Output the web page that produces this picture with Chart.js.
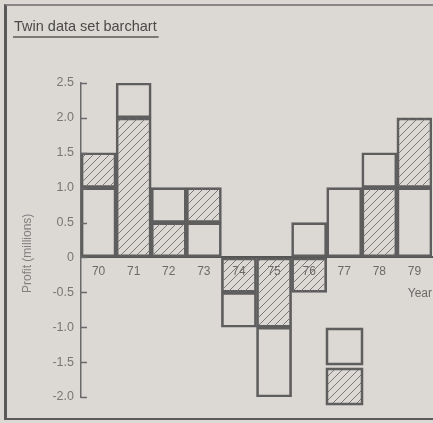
<!DOCTYPE html>
<html>
<head>
<meta charset="utf-8">
<script src="https://cdn.jsdelivr.net/npm/chart.js@4.4.1/dist/chart.umd.min.js"></script>
<style>
  html, body { margin: 0; padding: 0; background: #dcd8d3; width: 433px; height: 423px; overflow: hidden; }
  #frame { position: absolute; left: 4px; top: 4px; width: 460px; height: 412px;
           border-left: 3px solid #5a5a5a; border-top: 2px solid #8c8486; border-bottom: 2px solid #5a5a5a; }
  #c { position: absolute; left: 0; top: 0; }
</style>
</head>
<body>
<div id="frame"></div>
<canvas id="c" width="433" height="423"></canvas>
<script>
// ---- data ----
const years = ['70', '71', '72', '73', '74', '75', '76', '77', '78', '79'];
const plainSeries = [1.0, 2.5, 1.0, 0.5, -1.0, -2.0, 0.5, 1.0, 1.5, 1.0];
const hatchedSeries = [1.5, 2.0, 0.5, 1.0, -0.5, -1.0, -0.5, 1.0, 1.0, 2.0];
const yTickValues = [-2.0, -1.5, -1.0, -0.5, 0, 0.5, 1.0, 1.5, 2.0, 2.5];
const yTickLabels = ['-2.0', '-1.5', '-1.0', '-0.5', '0', '0.5', '1.0', '1.5', '2.0', '2.5'];

// Twin bars share one slot: the smaller (same sign) bar sits in front,
// the larger one shows only the part that sticks out beyond it.
function twinRanges(a, b) {
  if (a * b > 0) {
    if (Math.abs(a) <= Math.abs(b)) return [[0, a], [a, b]];
    return [[b, a], [0, b]];
  }
  return [[0, a], [0, b]];
}
const plainRanges = [], hatchedRanges = [];
years.forEach((y, i) => {
  const r = twinRanges(plainSeries[i], hatchedSeries[i]);
  plainRanges.push(r[0]);
  hatchedRanges.push(r[1]);
});

// hatch pattern
function makeHatch() {
  const s = 8;
  const pc = document.createElement('canvas');
  pc.width = s; pc.height = s;
  const g = pc.getContext('2d');
  g.strokeStyle = '#7a7878';
  g.lineWidth = 1;
  g.beginPath();
  g.moveTo(0, s); g.lineTo(s, 0);
  g.moveTo(-s / 2, s / 2); g.lineTo(s / 2, -s / 2);
  g.moveTo(s / 2, s + s / 2); g.lineTo(s + s / 2, s / 2);
  g.stroke();
  return g.createPattern(pc, 'repeat');
}
const ctx = document.getElementById('c').getContext('2d');
const hatch = makeHatch();

const FONT = "'Liberation Sans', Arial, sans-serif";
const TITLE_SIZE = 14.5;

const innerTicks = {
  id: 'innerTicks',
  afterDraw(chart) {
    const ys = chart.scales.y;
    const c = chart.ctx;
    c.save();
    c.strokeStyle = '#6a6a6a';
    c.lineWidth = 1.5;
    ys.ticks.forEach(t => {
      const py = Math.round(ys.getPixelForValue(t.value)) + 0.5;
      c.beginPath();
      c.moveTo(ys.right, py);
      c.lineTo(ys.right + 6, py);
      c.stroke();
    });
    c.restore();
  }
};

const titleUnderline = {
  id: 'titleUnderline',
  afterDraw(chart) {
    const tb = chart.titleBlock;
    const c = chart.ctx;
    c.save();
    c.font = TITLE_SIZE + 'px ' + FONT;
    const w = c.measureText(chart.options.plugins.title.text).width;
    c.strokeStyle = '#7c7878';
    c.lineWidth = 2;
    c.beginPath();
    c.moveTo(tb.left - 1, 37);
    c.lineTo(tb.left + w + 2, 37);
    c.stroke();
    c.restore();
  }
};

const boxLegend = {
  id: 'boxLegend',
  afterDraw(chart) {
    const c = chart.ctx;
    const ds = chart.data.datasets;
    const spots = [[327, 329], [327, 369]];
    c.save();
    ds.forEach((d, i) => {
      const [x, y] = spots[i];
      c.fillStyle = d.backgroundColor;
      c.fillRect(x, y, 35, 35);
      c.strokeStyle = d.borderColor;
      c.lineWidth = 2.5;
      c.strokeRect(x, y, 35, 35);
    });
    c.restore();
  }
};

new Chart(ctx, {
  type: 'bar',
  data: {
    labels: years,
    datasets: [
      {
        label: 'Series 1',
        data: plainRanges,
        backgroundColor: 'rgba(0,0,0,0)',
        borderColor: '#5e5e5e',
        borderWidth: 2,
        borderSkipped: false,
        grouped: false,
        barPercentage: 1,
        categoryPercentage: 1
      },
      {
        label: 'Series 2',
        data: hatchedRanges,
        backgroundColor: hatch,
        borderColor: '#5e5e5e',
        borderWidth: 2,
        borderSkipped: false,
        grouped: false,
        barPercentage: 1,
        categoryPercentage: 1
      }
    ]
  },
  options: {
    responsive: false,
    devicePixelRatio: 1,
    animation: false,
    layout: { padding: { left: 14, right: 1, top: 0, bottom: 26 } },
    plugins: {
      legend: { display: false },
      tooltip: { enabled: false },
      title: {
        display: true,
        text: 'Twin data set barchart',
        align: 'start',
        color: '#4a4a4a',
        font: { family: FONT, size: TITLE_SIZE, weight: 'normal' },
        padding: { top: 18, bottom: 47.6 }
      }
    },
    scales: {
      x: {
        type: 'category',
        position: { y: 0 },
        offset: true,
        z: 1,
        grid: { display: true, drawOnChartArea: false, drawTicks: false },
        border: { display: true, color: '#555555', width: 2 },
        ticks: { color: '#6a6a6a', font: { family: FONT, size: 12 }, padding: 7, maxRotation: 0, autoSkip: false },
        title: { display: true, text: 'Year', align: 'end', color: '#6a6a6a',
                 font: { family: FONT, size: 12 }, padding: { top: 1, bottom: 0 } }
      },
      y: {
        min: -2.0,
        max: 2.5,
        afterFit(scale) { scale.width = 67; },
        afterBuildTicks(scale) { scale.ticks = yTickValues.map(v => ({ value: v })); },
        grid: { display: true, drawOnChartArea: false, drawTicks: false },
        border: { display: true, color: '#6a6a6a', width: 1.5 },
        ticks: {
          color: '#777777',
          font: { family: FONT, size: 12.5 },
          padding: 7,
          callback: (v) => yTickLabels[yTickValues.indexOf(v)]
        },
        title: { display: true, text: 'Profit (millions)        ', color: '#808080',
                 font: { family: FONT, size: 12 }, padding: { top: 6, bottom: 4 } }
      }
    }
  },
  plugins: [innerTicks, titleUnderline, boxLegend]
});
</script>
</body>
</html>
